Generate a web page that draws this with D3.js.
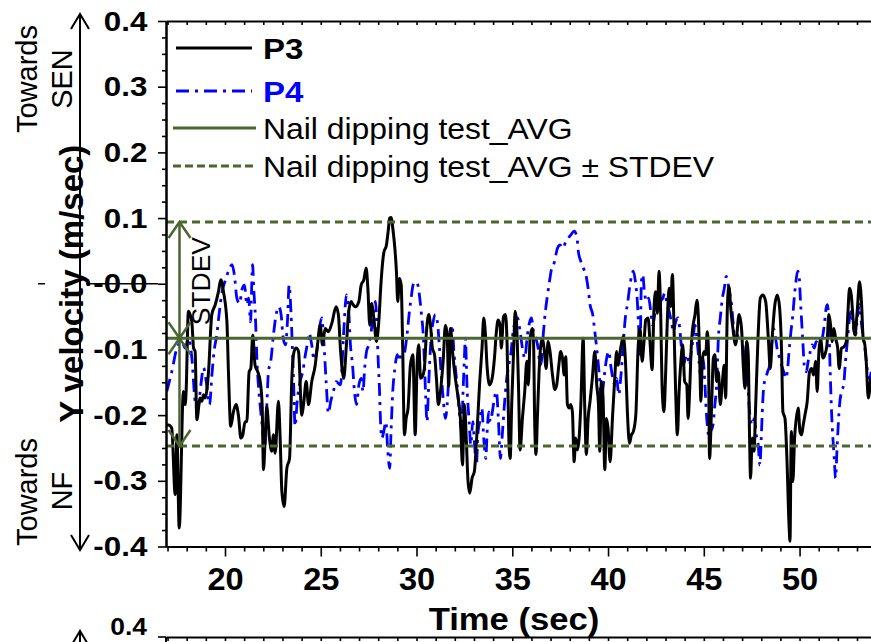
<!DOCTYPE html>
<html>
<head>
<meta charset="utf-8">
<script src="https://cdn.jsdelivr.net/npm/d3@7"></script>
<style>
  body { margin: 0; background: #fff; }
  svg { display: block; }
  text { font-family: "Liberation Sans", Arial, sans-serif; }
</style>
</head>
<body>
<svg id="chart" width="871" height="642"></svg>
<script>
// ---- data: Y velocity (m/sec) against time (sec) ----
const p3Time = [
  16.95,17.05,17.22,17.40,17.49,17.61,17.83,17.92,17.97,18.09,
  18.18,18.27,18.36,18.44,18.53,18.70,18.79,18.88,18.96,19.14,
  19.31,19.49,19.66,19.78,19.92,20.10,20.18,20.30,20.44,20.58,
  20.70,20.83,20.93,21.05,21.14,21.26,21.35,21.45,21.57,21.71,
  21.84,21.94,22.01,22.10,22.18,22.32,22.44,22.53,22.62,22.79,
  22.88,22.97,23.09,23.23,23.37,23.49,23.61,23.71,23.84,24.01,
  24.10,24.24,24.36,24.53,24.71,24.83,24.97,25.09,25.23,25.40,
  25.58,25.80,25.92,
  26.03,26.20,26.34,26.46,26.59,26.69,26.81,26.99,27.11,27.25,
  27.37,27.46,27.56,27.65,27.77,27.91,28.03,28.15,28.29,28.43,
  28.52,28.60,28.67,28.78,28.87,28.95,29.02,29.11,29.20,29.27,
  29.37,29.46,29.56,29.68,29.81,29.93,30.03,30.12,30.21,30.31,
  30.41,30.52,30.64,30.73,30.83,30.94,31.04,31.14,31.25,31.39,
  31.51,31.60,31.68,31.77,31.91,32.03,32.15,32.29,32.40,32.50,
  32.61,32.69,32.78,32.90,33.02,33.16,33.30,33.42,33.51,33.60,
  33.68,33.82,33.95,34.07,34.17,34.26,34.36,34.43,34.54,34.64,
  34.73,34.82,34.89,34.97,35.08,35.15,35.22,35.32,
  35.41,35.53,35.65,35.76,35.84,35.93,36.04,36.11,36.17,36.24,
  36.31,36.40,36.49,36.57,36.66,36.77,36.87,36.97,37.10,37.22,
  37.32,37.43,37.53,37.62,37.71,37.79,37.88,37.97,38.05,38.14,
  38.23,38.31,38.40,38.49,38.58,38.70,38.78,38.87,38.96,39.06,
  39.18,39.31,39.41,39.50,39.57,39.65,39.74,39.83,39.92,40.00,
  40.11,40.23,40.35,40.45,40.52,40.66,40.80,40.92,41.01,41.12,
  41.22,41.32,41.45,41.57,41.67,41.78,41.88,41.97,42.09,42.19,
  42.30,42.40,42.49,42.58,42.66,42.75,42.82,42.92,43.01,43.10,
  43.19,43.27,43.36,43.45,43.53,43.62,43.71,43.79,43.90,44.00,
  44.11,44.18,44.26,44.35,
  44.40,44.54,44.64,44.71,44.78,44.85,44.92,45.01,45.10,45.18,
  45.24,45.30,45.41,45.50,45.58,45.67,45.76,45.86,45.97,46.07,
  46.14,46.23,46.31,46.42,46.52,46.66,46.84,46.97,47.06,47.15,
  47.24,47.32,47.39,47.44,47.53,47.62,47.71,47.83,47.95,48.09,
  48.23,48.37,48.47,48.58,48.71,48.84,48.96,49.06,49.13,49.24,
  49.34,49.45,49.50,49.57,49.65,49.74,49.83,49.93,50.02,50.11,
  50.19,50.28,50.40,50.52,50.63,50.73,50.84,50.92,51.01,51.10,
  51.22,51.32,51.43,51.53,51.62,51.71,51.79,51.88,51.99,52.07,
  52.19,52.32,52.44,52.52,52.61,52.70,52.79,52.89,53.01,53.13,
  53.24,53.32,53.41,53.48,53.59,53.71
];
const p3Vel = [
  -0.215,-0.215,-0.220,-0.321,-0.230,-0.372,-0.164,-0.184,-0.164,-0.042,
  -0.047,-0.058,-0.098,-0.103,-0.207,-0.174,-0.179,-0.169,-0.174,-0.134,
  -0.047,-0.032,-0.012,0.006,-0.012,-0.058,-0.134,-0.217,-0.195,-0.184,
  -0.200,-0.235,-0.230,-0.210,-0.210,-0.134,-0.129,-0.078,-0.124,-0.134,
  -0.149,-0.184,-0.283,-0.235,-0.187,-0.235,-0.255,-0.230,-0.258,-0.179,
  -0.235,-0.316,-0.339,-0.281,-0.266,-0.144,-0.103,-0.098,-0.103,-0.200,
  -0.184,-0.149,-0.184,-0.149,-0.124,-0.093,-0.063,-0.093,-0.068,-0.073,
  -0.060,-0.035,-0.047,
  -0.100,-0.144,-0.093,-0.042,-0.027,-0.032,-0.035,-0.027,-0.002,0.006,
  0.024,-0.007,-0.063,-0.030,-0.052,-0.088,-0.058,0.003,0.047,0.059,
  0.080,0.100,0.101,0.080,0.054,0.019,-0.027,0.008,-0.002,-0.083,
  -0.230,-0.205,-0.189,-0.124,-0.108,-0.230,-0.124,-0.093,-0.144,-0.141,
  -0.129,-0.073,-0.047,-0.063,-0.098,-0.108,-0.144,-0.184,-0.164,-0.118,
  -0.063,-0.078,-0.156,-0.068,-0.113,-0.144,-0.169,-0.205,-0.276,-0.184,
  -0.245,-0.301,-0.319,-0.296,-0.286,-0.225,-0.149,-0.098,-0.052,-0.078,
  -0.124,-0.154,-0.144,-0.113,-0.073,-0.055,-0.063,-0.098,-0.050,-0.047,
  -0.093,-0.235,-0.266,-0.184,-0.093,-0.042,-0.058,-0.150,
  -0.253,-0.205,-0.164,-0.118,-0.154,-0.083,-0.068,-0.088,-0.210,-0.260,
  -0.205,-0.134,-0.093,-0.083,-0.098,-0.129,-0.088,-0.103,-0.139,-0.161,
  -0.154,-0.124,-0.103,-0.113,-0.139,-0.111,-0.184,-0.189,-0.184,-0.195,
  -0.271,-0.235,-0.253,-0.235,-0.184,-0.083,-0.184,-0.260,-0.205,-0.179,
  -0.144,-0.103,-0.154,-0.184,-0.255,-0.149,-0.174,-0.283,-0.205,-0.220,
  -0.271,-0.205,-0.144,-0.103,-0.124,-0.098,-0.080,-0.124,-0.195,-0.243,
  -0.230,-0.225,-0.200,-0.098,-0.068,-0.118,-0.088,-0.055,-0.052,-0.088,
  -0.131,-0.037,-0.012,-0.045,0.019,-0.047,-0.154,-0.195,-0.134,-0.052,
  -0.007,-0.035,0.014,-0.073,-0.164,-0.230,-0.164,-0.124,-0.093,-0.149,
  -0.154,-0.205,-0.164,-0.093,
  -0.073,-0.047,-0.025,-0.047,-0.108,-0.179,-0.118,-0.103,-0.108,-0.073,
  -0.098,-0.266,-0.184,-0.113,-0.108,-0.149,-0.134,-0.184,-0.149,-0.124,
  -0.174,-0.037,-0.004,-0.042,-0.068,-0.093,-0.047,-0.068,-0.124,-0.159,
  -0.088,-0.108,-0.235,-0.296,-0.235,-0.255,-0.184,-0.083,-0.022,-0.017,
  -0.027,-0.083,-0.129,-0.078,-0.032,-0.017,-0.037,-0.103,-0.195,-0.205,
  -0.266,-0.367,-0.392,-0.225,-0.301,-0.235,-0.205,-0.189,-0.225,-0.230,
  -0.215,-0.200,-0.179,-0.134,-0.129,-0.139,-0.118,-0.164,-0.103,-0.083,
  -0.113,-0.108,-0.093,-0.047,-0.063,-0.088,-0.068,-0.083,-0.098,-0.129,
  -0.098,-0.096,-0.088,-0.047,-0.007,-0.017,-0.052,-0.078,-0.042,0.003,
  -0.032,-0.083,-0.093,-0.118,-0.174,-0.144
];
const p4Time = [
  16.96,17.22,17.49,17.75,17.92,18.09,18.27,18.44,18.58,18.74,
  18.88,19.02,19.19,19.33,19.43,19.57,19.71,19.85,20.03,20.20,
  20.37,20.50,20.62,20.76,20.90,21.02,21.14,21.24,21.33,21.44,
  21.50,21.59,21.68,21.77,21.87,21.97,22.06,22.17,22.27,22.39,
  22.53,22.67,22.81,22.93,23.04,23.16,23.26,23.35,23.45,23.58,
  23.66,23.77,23.92,24.06,24.18,24.29,24.39,24.53,24.65,24.79,
  24.93,25.05,25.16,25.28,25.40,25.52,25.66,25.80,
  26.03,26.20,26.34,26.46,26.55,26.66,26.76,26.87,26.99,27.11,
  27.21,27.28,27.39,27.51,27.63,27.77,27.86,27.94,28.01,28.07,
  28.12,28.19,28.29,28.40,28.50,28.60,28.67,28.76,28.87,28.99,
  29.09,29.21,29.34,29.44,29.54,29.63,29.72,29.82,29.94,30.07,
  30.17,30.26,30.34,30.41,30.48,30.55,30.62,30.69,30.76,30.87,
  30.99,31.11,31.20,31.28,31.39,31.51,31.60,31.68,31.77,31.86,
  31.95,32.05,32.15,32.26,32.35,32.43,32.50,32.55,32.64,32.75,
  32.83,32.94,33.02,33.13,33.20,33.30,33.41,33.51,33.62,33.68,
  33.77,33.86,33.96,34.07,34.17,34.28,34.38,34.49,34.59,34.69,
  34.82,34.94,35.04,35.16,
  35.27,35.41,35.53,35.65,35.79,35.91,36.00,36.11,36.23,36.35,
  36.45,36.52,36.63,36.73,36.84,36.94,37.04,37.18,37.36,37.50,
  37.65,37.79,37.91,38.05,38.23,38.37,38.45,38.58,38.71,38.84,
  38.96,39.06,39.20,39.31,39.39,39.46,39.53,39.60,39.65,39.72,
  39.83,39.93,40.04,40.14,40.25,40.35,40.45,40.56,40.66,40.77,
  40.84,40.92,41.01,41.12,41.22,41.32,41.43,41.53,41.60,41.67,
  41.74,41.81,41.90,42.00,42.12,42.23,42.33,42.44,42.54,42.65,
  42.75,42.86,42.96,43.06,43.19,43.31,43.41,43.53,43.66,43.76,
  43.85,43.93,44.04,44.14,44.25,44.35,
  44.40,44.54,44.64,44.75,44.85,44.96,45.06,45.13,45.20,45.27,
  45.36,45.48,45.58,45.67,45.76,45.86,45.97,46.07,46.17,46.28,
  46.37,46.45,46.54,46.63,46.75,46.87,46.97,47.10,47.22,47.32,
  47.39,47.46,47.53,47.64,47.74,47.84,47.93,48.00,48.07,48.14,
  48.23,48.33,48.44,48.54,48.64,48.75,48.85,48.96,49.06,49.17,
  49.27,49.38,49.45,49.55,49.65,49.72,49.79,49.90,49.97,50.04,
  50.11,50.18,50.26,50.35,50.45,50.56,50.66,50.77,50.87,50.98,
  51.08,51.19,51.29,51.39,51.46,51.53,51.60,51.67,51.74,51.81,
  51.88,51.95,52.02,52.09,52.19,52.30,52.40,52.51,52.61,52.72,
  52.82,52.92,53.03,53.13,53.24,53.34,53.45,53.55,53.66,53.74
];
const p4Vel = [
  -0.164,-0.134,-0.098,-0.088,-0.098,-0.083,-0.113,-0.179,-0.192,-0.154,
  -0.128,-0.149,-0.184,-0.134,-0.103,-0.078,-0.042,-0.012,0.006,0.021,
  0.029,0.011,-0.022,-0.030,-0.007,-0.002,-0.032,-0.022,-0.058,0.029,
  -0.007,-0.052,-0.124,-0.164,-0.195,-0.225,-0.255,-0.195,-0.134,-0.118,
  -0.078,-0.047,-0.035,-0.047,-0.083,-0.093,-0.058,-0.002,-0.047,-0.149,
  -0.217,-0.179,-0.149,-0.134,-0.111,-0.093,-0.075,-0.093,-0.116,-0.103,
  -0.068,-0.052,-0.088,-0.149,-0.197,-0.179,-0.164,-0.149,
  -0.154,-0.073,-0.017,-0.042,-0.093,-0.124,-0.164,-0.184,-0.154,-0.144,
  -0.164,-0.134,-0.103,-0.093,-0.073,-0.042,-0.027,-0.073,-0.124,-0.164,
  -0.210,-0.235,-0.225,-0.210,-0.255,-0.281,-0.225,-0.164,-0.129,-0.108,
  -0.118,-0.108,-0.108,-0.093,-0.068,-0.042,-0.022,-0.002,0.003,-0.002,
  -0.022,-0.047,-0.073,-0.118,-0.174,-0.210,-0.164,-0.118,-0.083,-0.058,
  -0.047,-0.063,-0.098,-0.134,-0.174,-0.205,-0.184,-0.144,-0.083,-0.063,
  -0.103,-0.134,-0.164,-0.205,-0.225,-0.164,-0.113,-0.083,-0.159,-0.210,
  -0.245,-0.210,-0.240,-0.276,-0.230,-0.210,-0.189,-0.235,-0.266,-0.230,
  -0.195,-0.210,-0.195,-0.174,-0.164,-0.210,-0.266,-0.225,-0.184,-0.149,
  -0.124,-0.103,-0.073,-0.058,
  -0.052,-0.073,-0.098,-0.113,-0.078,-0.058,-0.052,-0.073,-0.083,-0.098,
  -0.124,-0.118,-0.073,-0.042,-0.017,0.003,0.021,0.031,0.054,0.059,
  0.054,0.064,0.069,0.074,0.080,0.072,0.049,0.034,0.024,0.014,
  -0.007,-0.032,-0.047,-0.073,-0.093,-0.113,-0.134,-0.164,-0.184,-0.164,
  -0.134,-0.113,-0.103,-0.124,-0.144,-0.154,-0.144,-0.169,-0.144,-0.103,
  -0.073,-0.047,-0.032,-0.007,0.011,0.019,0.003,-0.027,-0.068,-0.108,
  0.003,0.014,-0.012,-0.027,-0.022,-0.042,-0.063,-0.047,-0.032,-0.037,
  -0.027,-0.022,-0.014,-0.027,-0.042,-0.058,-0.073,-0.058,-0.052,-0.073,
  -0.103,-0.124,-0.113,-0.108,-0.124,-0.103,
  -0.093,-0.063,-0.083,-0.118,-0.144,-0.113,-0.154,-0.195,-0.220,-0.235,
  -0.225,-0.215,-0.184,-0.154,-0.083,-0.052,-0.022,-0.007,0.011,-0.002,
  -0.017,-0.032,-0.063,-0.088,-0.078,-0.088,-0.083,-0.108,-0.134,-0.164,
  -0.195,-0.210,-0.215,-0.205,-0.230,-0.245,-0.276,-0.235,-0.184,-0.154,
  -0.144,-0.134,-0.124,-0.093,-0.068,-0.083,-0.103,-0.113,-0.124,-0.134,
  -0.144,-0.129,-0.103,-0.073,-0.047,-0.022,-0.002,0.019,0.014,-0.022,
  -0.058,-0.093,-0.129,-0.134,-0.118,-0.103,-0.093,-0.098,-0.088,-0.093,
  -0.098,-0.083,-0.063,-0.037,-0.032,-0.063,-0.134,-0.195,-0.235,-0.266,
  -0.296,-0.255,-0.215,-0.184,-0.164,-0.154,-0.118,-0.083,-0.052,-0.042,
  -0.068,-0.078,-0.047,-0.032,-0.063,-0.083,-0.108,-0.134,-0.144,-0.134
];

// Nail dipping test reference levels (m/sec)
const avgVel = -0.083;
const avgPlusStdev = 0.094;
const avgMinusStdev = -0.247;

// axis ticks and labels
const xMajorTicks = [20, 25, 30, 35, 40, 45, 50];
const yMajorTicks = [0.4, 0.3, 0.2, 0.1, 0.0, -0.1, -0.2, -0.3, -0.4];
const yTickLabels = ["0.4", "0.3", "0.2", "0.1", "-0.0", "-0.1", "-0.2", "-0.3", "-0.4"];
const legendLabels = ["P3", "P4", "Nail dipping test_AVG", "Nail dipping test_AVG \u00B1 STDEV"];

// ---- drawing ----
const GREEN = "#4b6630";
const BLUE = "#0000ff";
const WIDEN = 1.1; // horizontal stretch of the lettering
const svg = d3.select("#chart");

const x = d3.scaleLinear().domain([16.92, 54.2]).range([166, 880]);
const y = d3.scaleLinear().domain([-0.4, 0.4]).range([546.5, 21]);

svg.append("defs").append("clipPath").attr("id", "plotClip")
  .append("rect").attr("x", 166).attr("y", 19).attr("width", 720).attr("height", 530);

// series
const line = d3.line().x(d => x(d[0])).y(d => y(d[1])).curve(d3.curveMonotoneX);
const plot = svg.append("g").attr("clip-path", "url(#plotClip)");

plot.append("path").datum(d3.zip(p4Time, p4Vel))
  .attr("d", line).attr("fill", "none").attr("stroke", BLUE)
  .attr("stroke-width", 2.8).attr("stroke-dasharray", "13,6,3,6");

plot.append("path").datum(d3.zip(p3Time, p3Vel))
  .attr("d", line).attr("fill", "none").attr("stroke", "#000")
  .attr("stroke-width", 3).attr("stroke-linejoin", "round");

// reference levels
plot.append("line").attr("x1", 166).attr("x2", 880)
  .attr("y1", y(avgVel)).attr("y2", y(avgVel))
  .attr("stroke", GREEN).attr("stroke-width", 2.8);
[avgPlusStdev, avgMinusStdev].forEach(v => {
  plot.append("line").attr("x1", 166).attr("x2", 880)
    .attr("y1", y(v)).attr("y2", y(v))
    .attr("stroke", GREEN).attr("stroke-width", 2.8).attr("stroke-dasharray", "8,5");
});

// STDEV span arrows
const ax = 179.5;
function head(apexY, dir) {
  // dir = +1: points up (arms below the apex); -1: points down
  return `M${ax - 11},${apexY + dir * 16}L${ax},${apexY}L${ax + 11},${apexY + dir * 16}`;
}
svg.append("path")
  .attr("d", `M${ax},${y(avgPlusStdev)}V${y(avgMinusStdev)}` +
    head(y(avgPlusStdev), 1) + head(y(avgVel), -1) +
    head(y(avgVel), 1) + head(y(avgMinusStdev), -1))
  .attr("fill", "none").attr("stroke", GREEN).attr("stroke-width", 2.5);
svg.append("text")
  .attr("transform", `translate(210,${(y(avgPlusStdev) + y(avgVel)) / 2 + 1}) rotate(-90)`)
  .attr("text-anchor", "middle").attr("font-size", 26.5).text("STDEV");

// axes
function styleAxis(g) {
  g.selectAll("path.domain").attr("stroke", "#000").attr("stroke-width", 2);
  g.selectAll(".tick line").attr("stroke", "#000").attr("stroke-width", 1.6);
}
const minorX = d3.range(17, 55, 1).filter(t => t % 5 !== 0);
const minorY = d3.range(-0.4, 0.4001, 0.025).filter(v => Math.abs(Math.round(v * 40) % 4) !== 0);

// bottom
svg.append("g").attr("transform", `translate(0,${y(-0.4)})`)
  .call(d3.axisBottom(x).tickValues(minorX).tickSize(5).tickSizeOuter(0).tickFormat(""))
  .call(styleAxis);
const xAxis = svg.append("g").attr("transform", `translate(0,${y(-0.4)})`)
  .call(d3.axisBottom(x).tickValues(xMajorTicks).tickSize(10).tickSizeOuter(0).tickPadding(12))
  .call(styleAxis);
xAxis.selectAll(".tick text").attr("font-size", 31).attr("font-weight", "bold")
  .attr("fill", "#000").attr("transform", "scale(1.05,1)")
  .style("font-family", '"Liberation Sans", Arial, sans-serif');

// top
svg.append("g").attr("transform", `translate(0,${y(0.4)})`)
  .call(d3.axisTop(x).tickValues(d3.range(17, 55, 1)).tickSize(-4).tickSizeOuter(0).tickFormat(""))
  .call(styleAxis);

// left
svg.append("g").attr("transform", "translate(166,0)")
  .call(d3.axisLeft(y).tickValues(minorY).tickSize(4).tickSizeOuter(0).tickFormat(""))
  .call(styleAxis);
const yAxis = svg.append("g").attr("transform", "translate(166,0)")
  .call(d3.axisLeft(y).tickValues(yMajorTicks).tickSize(8).tickSizeOuter(0).tickPadding(9)
    .tickFormat((d, i) => yTickLabels[i]))
  .call(styleAxis);
yAxis.selectAll(".tick text").attr("font-size", 28.5).attr("font-weight", "bold")
  .attr("fill", "#000").attr("transform", `scale(${WIDEN},1)`)
  .style("font-family", '"Liberation Sans", Arial, sans-serif');

// axis titles
svg.append("text").attr("transform", `translate(514,630) scale(${WIDEN},1)`)
  .attr("text-anchor", "middle")
  .attr("font-size", 31.5).attr("font-weight", "bold").text("Time (sec)");
svg.append("text").attr("transform", `translate(83,${y(0)}) rotate(-90)`)
  .attr("text-anchor", "middle").attr("font-size", 33).attr("font-weight", "bold")
  .text("Y velocity (m/sec)");

// direction arrow and captions
svg.append("path")
  .attr("d", "M80,550V14M71,29L80,14L89,29M71,535L80,550L89,535")
  .attr("fill", "none").attr("stroke", "#000").attr("stroke-width", 2);
svg.append("line").attr("x1", 38).attr("x2", 45).attr("y1", y(0)).attr("y2", y(0))
  .attr("stroke", "#000").attr("stroke-width", 1.5);
svg.append("line").attr("x1", 86).attr("x2", 158).attr("y1", y(0)).attr("y2", y(0))
  .attr("stroke", "#000").attr("stroke-width", 1.5);
[["Towards", 37, 79], ["SEN", 72, 79], ["Towards", 37, 492], ["NF", 72, 491]].forEach(([t, tx, ty]) => {
  svg.append("text").attr("transform", `translate(${tx},${ty}) rotate(-90)`)
    .attr("text-anchor", "middle").attr("font-size", 29).text(t);
});

// legend
const legend = svg.append("g");
function legendText(label, ty, size, bold, fill) {
  legend.append("text").attr("transform", `translate(263,${ty}) scale(${WIDEN},1)`)
    .attr("font-size", size).attr("font-weight", bold ? "bold" : "normal")
    .attr("fill", fill).text(label);
}
legend.append("line").attr("x1", 176).attr("x2", 252).attr("y1", 48).attr("y2", 48)
  .attr("stroke", "#000").attr("stroke-width", 3);
legendText(legendLabels[0], 59, 30, true, "#000");
legend.append("line").attr("x1", 176).attr("x2", 252).attr("y1", 91).attr("y2", 91)
  .attr("stroke", BLUE).attr("stroke-width", 2.8).attr("stroke-dasharray", "13,6,3,6");
legendText(legendLabels[1], 102, 30, true, BLUE);
legend.append("line").attr("x1", 173).attr("x2", 256).attr("y1", 128).attr("y2", 128)
  .attr("stroke", GREEN).attr("stroke-width", 2.8);
legendText(legendLabels[2], 139, 29, false, "#000");
legend.append("line").attr("x1", 173).attr("x2", 257).attr("y1", 166).attr("y2", 166)
  .attr("stroke", GREEN).attr("stroke-width", 2.8).attr("stroke-dasharray", "8,4");
legendText(legendLabels[3], 177, 29, false, "#000");

// top edge of the next panel below
const nextTop = 637;
svg.append("g").attr("transform", `translate(0,${nextTop})`)
  .call(d3.axisTop(x).tickValues(d3.range(17, 55, 1)).tickSize(-4).tickSizeOuter(0).tickFormat(""))
  .call(styleAxis);
svg.append("line").attr("x1", 158).attr("x2", 166).attr("y1", nextTop).attr("y2", nextTop)
  .attr("stroke", "#000").attr("stroke-width", 1.6);
svg.append("line").attr("x1", 166).attr("x2", 166).attr("y1", nextTop).attr("y2", 650)
  .attr("stroke", "#000").attr("stroke-width", 2);
svg.append("text").attr("transform", `translate(147,635) scale(${WIDEN},1)`)
  .attr("text-anchor", "end").attr("font-size", 24).attr("font-weight", "bold").text("0.4");
svg.append("path").attr("d", "M80,660V631M71,646L80,631L89,646")
  .attr("fill", "none").attr("stroke", "#000").attr("stroke-width", 2);
</script>
</body>
</html>
